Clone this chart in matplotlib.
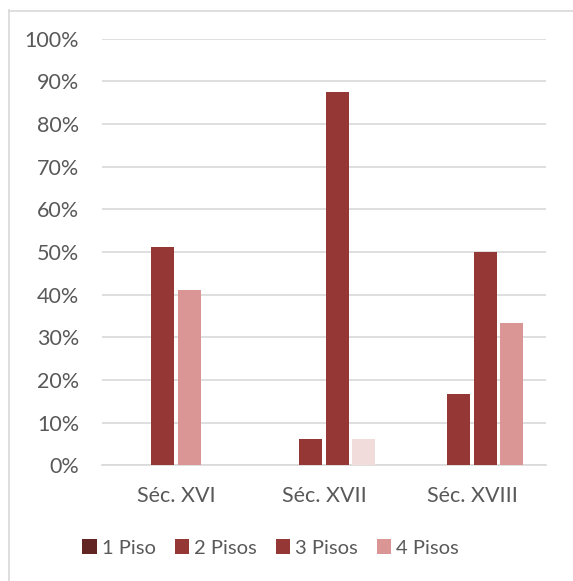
import matplotlib
matplotlib.use("Agg")
import matplotlib.pyplot as plt
from matplotlib.lines import Line2D
from matplotlib.patches import Patch
import numpy as np

categories = ['Séc. XVI', 'Séc. XVII', 'Séc. XVIII']
series_names = ['1 Piso', '2 Pisos', '3 Pisos', '4 Pisos']
piso1 = [0.0, 0.0, 0.0]
piso2 = [51.2, 6.25, 16.7]
piso3 = [41.2, 87.5, 50.0]
piso4 = [0.0, 6.25, 33.3]
yticks = [0, 10, 20, 30, 40, 50, 60, 70, 80, 90, 100]
ytick_labels = ['0%', '10%', '20%', '30%', '40%', '50%', '60%', '70%', '80%', '90%', '100%']

series_values = [piso1, piso2, piso3, piso4]
series_colors = ['#632523', '#953735', '#953735', '#D99694']
# individually coloured points, as in the original
point_colors = {(2, 0): '#D99694', (3, 1): '#F2DCDB'}

plt.rcParams['font.family'] = ['Lato', 'DejaVu Sans']
text_color = '#595959'
grid_color = '#D9D9D9'
fs = 15.5

W, H = 573, 581
fig = plt.figure(figsize=(W / 100, H / 100), dpi=100)
ax = fig.add_axes([102 / W, 1 - 465.3 / H, (546 - 102) / W, (465.3 - 38.7) / H])

x = np.arange(len(categories))
slot = 0.179
bw = 0.155
for i, (vals, col) in enumerate(zip(series_values, series_colors)):
    cols = [point_colors.get((i, j), col) for j in range(len(categories))]
    ax.bar(x + (i - 1.5) * slot, vals, width=bw, color=cols, zorder=3)

ax.set_xlim(-0.5, len(categories) - 0.5)
ax.set_ylim(0, 100)
ax.set_yticks(yticks)
ax.set_yticklabels(ytick_labels)
ax.set_xticks(x)
ax.set_xticklabels(categories)
ax.yaxis.grid(True, color=grid_color, linewidth=1.2, zorder=0)
ax.set_axisbelow(True)
for s in ['top', 'right', 'left']:
    ax.spines[s].set_visible(False)
ax.spines['bottom'].set_color(grid_color)
ax.spines['bottom'].set_linewidth(1.2)
ax.tick_params(axis='both', length=0, colors=text_color, labelsize=fs)
ax.tick_params(axis='y', pad=16.5)
ax.tick_params(axis='x', pad=15)

handles = [Patch(facecolor=c, edgecolor='none') for c in series_colors]
fig.legend(handles, series_names, loc='center', bbox_to_anchor=(270.5 / W, 1 - 548 / H),
           ncol=4, frameon=False, fontsize=14.5, labelcolor=text_color,
           handlelength=0.7, handleheight=0.7, handletextpad=0.25, columnspacing=0.95)

# chart border
fig.add_artist(Line2D([8.5 / W, 8.5 / W], [0, 1 - 10 / H], color=grid_color, lw=1.2))
fig.add_artist(Line2D([8.5 / W, 1], [1 - 10.5 / H, 1 - 10.5 / H], color=grid_color, lw=1.2))

fig.savefig('out.png', dpi=100)
